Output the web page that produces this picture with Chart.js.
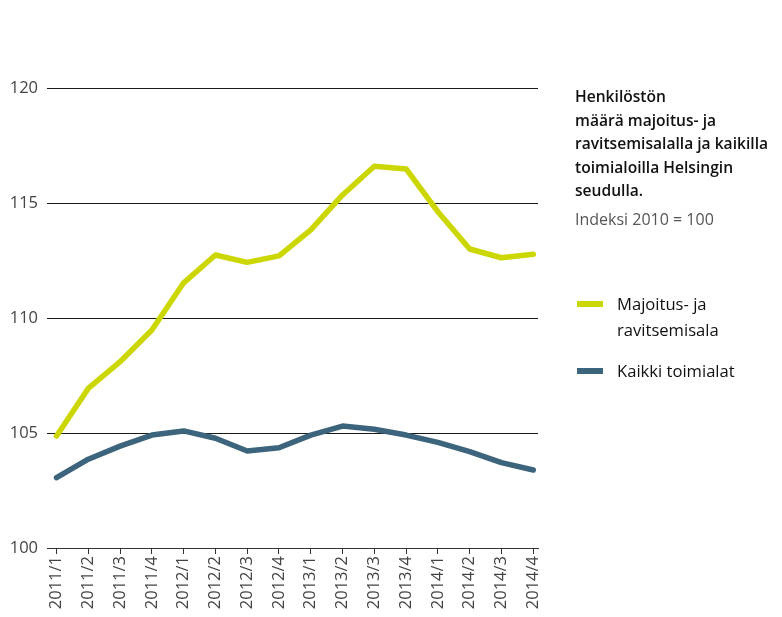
<!DOCTYPE html>
<html>
<head>
<meta charset="utf-8">
<script src="https://cdn.jsdelivr.net/npm/chart.js@4/dist/chart.umd.min.js"></script>
<style>
  html, body { margin: 0; padding: 0; background: #fff; }
  #wrap { position: relative; width: 782px; height: 617px; font-family: "Open Sans", "Noto Sans", sans-serif; }
  #chart { position: absolute; left: 0; top: 0; }
  .title { position: absolute; left: 575px; top: 85px; font-size: 15.6px; line-height: 23.5px; font-weight: 600; color: #111; width: 207px; white-space: nowrap; }
  .sub { position: absolute; left: 575px; top: 207px; font-size: 16px; line-height: 24px; color: #555; }
  .leg { position: absolute; left: 577px; font-size: 16.6px; color: #111; }
  .leg .mark { position: absolute; left: 0; width: 26px; height: 6px; }
  .leg .txt { position: absolute; left: 40px; line-height: 26px; white-space: nowrap; }
</style>
</head>
<body>
<div id="wrap">
  <canvas id="chart" width="782" height="617"></canvas>
  <div class="title">Henkilöstön<br>määrä majoitus- ja<br>ravitsemisalalla ja kaikilla<br>toimialoilla Helsingin<br>seudulla.</div>
  <div class="sub">Indeksi 2010 = 100</div>
  <div id="legend"></div>
</div>
<script>
// ------------------------------------------------------
// data
// ------------------------------------------------------
const quarters = ['2011/1', '2011/2', '2011/3', '2011/4', '2012/1', '2012/2', '2012/3', '2012/4',
  '2013/1', '2013/2', '2013/3', '2013/4', '2014/1', '2014/2', '2014/3', '2014/4'];
const majoitus = [104.87, 106.94, 108.1, 109.48, 111.53, 112.74, 112.42, 112.7,
  113.83, 115.35, 116.6, 116.48, 114.62, 113.0, 112.62, 112.77];
const kaikki = [103.06, 103.86, 104.43, 104.91, 105.09, 104.77, 104.22, 104.36,
  104.91, 105.3, 105.16, 104.91, 104.59, 104.19, 103.71, 103.39];
const yTicks = [100, 105, 110, 115, 120];
const seriesNames = ['Majoitus- ja<br>ravitsemisala', 'Kaikki toimialat'];

const colYellow = '#CCD600';
const colBlue = '#3D647D';

const toPoints = (arr) => arr.map((v, i) => ({ x: i, y: v }));

const ctx = document.getElementById('chart');
const chart = new Chart(ctx, {
  type: 'line',
  data: {
    datasets: [
      { label: 'Majoitus- ja ravitsemisala', data: toPoints(majoitus), borderColor: colYellow },
      { label: 'Kaikki toimialat', data: toPoints(kaikki), borderColor: colBlue }
    ]
  },
  options: {
    responsive: false,
    animation: false,
    layout: { padding: { top: 88, right: 244, left: 0, bottom: 0 } },
    elements: {
      line: { borderWidth: 5.5, tension: 0, borderCapStyle: 'round', borderJoinStyle: 'round' },
      point: { radius: 0 }
    },
    plugins: { legend: { display: false }, tooltip: { enabled: false } },
    scales: {
      x: {
        type: 'linear',
        min: -0.3,
        max: 15.15,
        afterBuildTicks: (scale) => { scale.ticks = quarters.map((q, i) => ({ value: i })); },
        afterFit: (scale) => { scale.height = 69; },
        grid: { drawOnChartArea: false, drawTicks: true, tickLength: 6, color: '#333', lineWidth: 1 },
        border: { display: true, color: '#333' },
        ticks: {
          autoSkip: false,
          minRotation: 90,
          maxRotation: 90,
          padding: 2,
          color: '#444',
          font: { family: '"Open Sans", "Noto Sans", sans-serif', size: 16.5 },
          callback: (v) => quarters[Math.round(v)]
        }
      },
      y: {
        min: 100,
        max: 120,
        afterBuildTicks: (scale) => { scale.ticks = yTicks.map(v => ({ value: v })); },
        afterFit: (scale) => { scale.width = 47; },
        grid: { drawTicks: false, color: '#1a1a1a', lineWidth: 1 },
        border: { display: false },
        ticks: {
          padding: 9,
          color: '#444',
          font: { family: '"Open Sans", "Noto Sans", sans-serif', size: 16.5 }
        }
      }
    }
  }
});

// legend as html, colours from datasets
const legendTops = [291, 358];
const legend = document.getElementById('legend');
chart.data.datasets.forEach((ds, i) => {
  const item = document.createElement('div');
  item.className = 'leg';
  item.style.top = legendTops[i] + 'px';
  item.innerHTML = `<div class="mark" style="top:${10}px;background:${ds.borderColor}"></div><div class="txt">${seriesNames[i]}</div>`;
  legend.appendChild(item);
});
</script>
</body>
</html>
